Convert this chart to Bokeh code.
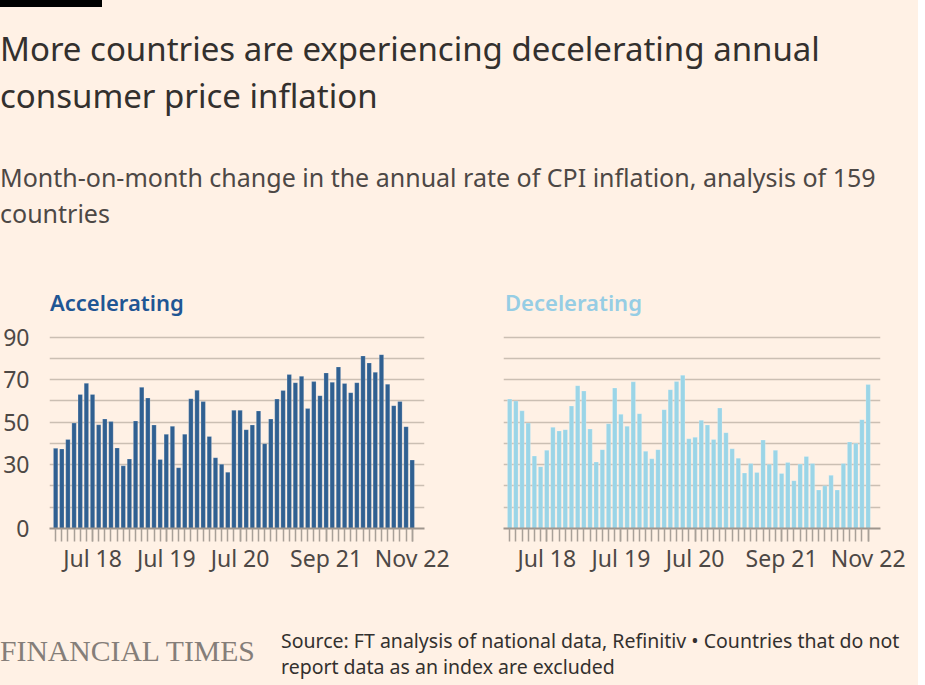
from bokeh.plotting import figure
from bokeh.layouts import column, row
from bokeh.models import Div, Range1d, FixedTicker
from bokeh.embed import file_html
from bokeh.resources import INLINE

# ---------------- data ----------------
title_lines = ["More countries are experiencing decelerating annual",
               "consumer price inflation"]
subtitle_lines = ["Month-on-month change in the annual rate of CPI inflation, analysis of 159",
                  "countries"]
panel_titles = ["Accelerating", "Decelerating"]
source_lines = ["Source: FT analysis of national data, Refinitiv \u2022 Countries that do not",
                "report data as an index are excluded"]
brand = "FINANCIAL TIMES"

# months Jan 2018 .. Nov 2022 (59 months)
month_index = list(range(59))
tick_positions = [6, 18, 30, 44, 58]
tick_labels = ["Jul 18", "Jul 19", "Jul 20", "Sep 21", "Nov 22"]
y_ticks = [0, 30, 50, 70, 90]
y_grid = [10, 20, 30, 40, 50, 60, 70, 80, 90]

accelerating = [37.7, 37.4, 41.9, 49.6, 63.1, 68.3, 63.1, 48.8, 51.5, 50.3,
                37.9, 29.5, 32.7, 50.6, 66.4, 61.4, 48.7, 32.5, 44.3, 48.1,
                28.6, 44.4, 61.1, 65.0, 59.7, 43.3, 33.3, 30.2, 26.5, 55.6,
                55.6, 46.5, 48.7, 55.3, 39.9, 51.5, 60.9, 64.9, 72.4, 68.6,
                71.6, 56.4, 69.1, 62.5, 73.2, 68.8, 76.0, 68.2, 63.9, 68.6,
                81.2, 77.9, 73.5, 81.8, 67.9, 57.8, 59.8, 47.9, 32.2]

decelerating = [60.9, 60.0, 55.4, 49.6, 34.1, 29.1, 36.8, 47.6, 45.9, 46.5,
                57.6, 67.2, 64.7, 46.8, 31.3, 37.1, 49.3, 66.1, 53.7, 48.1,
                69.0, 54.0, 36.3, 32.8, 37.1, 55.9, 65.3, 69.1, 72.1, 42.2,
                42.9, 50.9, 48.7, 41.9, 56.7, 45.1, 37.5, 33.1, 26.1, 30.6,
                26.4, 41.6, 30.2, 36.8, 25.9, 31.1, 22.5, 30.3, 33.9, 30.6,
                18.1, 20.1, 25.0, 18.1, 30.6, 40.7, 40.1, 51.2, 67.7]

# ---------------- style ----------------
BG = "#FFF1E5"
FONT = "Noto Sans"
TEXT_DARK = "#33302e"
TEXT_MID = "#4d4845"
GRID = "#cbbfb3"
AXIS = "#9e958d"
ACC_BAR = "#306091"
ACC_TXT = "#1f5694"
DEC_BAR = "#9bd5e7"
DEC_TXT = "#96cde4"
PAGE_W = 918


def line_div(text, left, top, size, color, weight="normal", family=FONT):
    return (f'<div style="position:absolute;left:{left}px;top:{top}px;'
            f'font-family:\'{family}\';font-size:{size}px;line-height:{size}px;'
            f'font-weight:{weight};color:{color};white-space:nowrap;">{text}</div>')


header_html = (
    f'<div style="position:relative;width:{PAGE_W}px;height:320px;background:{BG};">'
    '<div style="position:absolute;left:0;top:0;width:102px;height:7px;background:#000;"></div>'
    + line_div(title_lines[0], 0, 31.7, 33, TEXT_DARK)
    + line_div(title_lines[1], 0, 78.7, 33, TEXT_DARK)
    + line_div(subtitle_lines[0], 0, 164.8, 25, TEXT_MID)
    + line_div(subtitle_lines[1], 0, 200.8, 25, TEXT_MID)
    + line_div(panel_titles[0], 50, 290.5, 22, ACC_TXT, "600")
    + line_div(panel_titles[1], 505, 290.5, 22, DEC_TXT, "600")
    + '</div>'
)
header = Div(text=header_html, width=PAGE_W, height=320, margin=0,
             styles={"background-color": BG})

footer_html = (
    f'<div style="position:relative;width:{PAGE_W}px;height:85px;background:{BG};">'
    + line_div(brand, 0, 37.1, 29.7, "#857e79", "normal", "Liberation Serif")
    + line_div(source_lines[0], 281, 30.7, 19.5, TEXT_DARK)
    + line_div(source_lines[1], 281, 56.7, 19.5, TEXT_DARK)
    + '</div>'
)
footer = Div(text=footer_html, width=PAGE_W, height=85, margin=0,
             styles={"background-color": BG})


def make_panel(values, color, width, border_left, border_right, show_y):
    p = figure(width=width, height=280, output_backend="svg", toolbar_location=None,
               x_range=Range1d(-1, 60), y_range=Range1d(0, 91.27),
               min_border_left=border_left, min_border_right=border_right,
               min_border_top=14, min_border_bottom=72)
    p.background_fill_color = BG
    p.border_fill_color = BG
    p.outline_line_color = None
    p.vbar(x=month_index, top=values, width=0.72, fill_color=color,
           line_color="#ffffff", line_alpha=0.25, line_width=0.8)

    p.xgrid.visible = False
    p.ygrid.ticker = FixedTicker(ticks=y_grid)
    p.ygrid.grid_line_color = GRID
    p.ygrid.grid_line_width = 1.6

    xa = p.xaxis[0]
    xa.ticker = FixedTicker(ticks=tick_positions, minor_ticks=month_index)
    xa.major_label_overrides = {t: l for t, l in zip(tick_positions, tick_labels)}
    xa.axis_line_color = AXIS
    xa.axis_line_width = 2
    xa.major_tick_line_color = "#a8a098"
    xa.minor_tick_line_color = "#a8a098"
    xa.major_tick_line_width = 1.5
    xa.minor_tick_line_width = 1.5
    xa.major_tick_in = 0
    xa.minor_tick_in = 0
    xa.major_tick_out = 13
    xa.minor_tick_out = 13
    xa.major_label_standoff = 0
    xa.major_label_text_font = FONT
    xa.major_label_text_font_size = "23px"
    xa.major_label_text_color = TEXT_MID

    ya = p.yaxis[0]
    if show_y:
        ya.ticker = FixedTicker(ticks=y_ticks)
        ya.axis_line_color = None
        ya.major_tick_line_color = None
        ya.minor_tick_line_color = None
        ya.major_tick_out = 0
        ya.major_tick_in = 0
        ya.minor_tick_out = 0
        ya.minor_tick_in = 0
        ya.major_label_standoff = 20
        ya.major_label_text_font = FONT
        ya.major_label_text_font_size = "23px"
        ya.major_label_text_color = TEXT_MID
    else:
        ya.visible = False
    return p


left = make_panel(accelerating, ACC_BAR, 460, 48, 36, True)
right = make_panel(decelerating, DEC_BAR, PAGE_W - 460, 43, PAGE_W - 460 - 43 - 377, False)

charts = row(left, right, margin=0, spacing=0, styles={"background-color": BG})
layout = column(header, charts, footer, margin=0, spacing=0,
                styles={"background": f"linear-gradient(to right, {BG} {PAGE_W}px, #ffffff {PAGE_W}px)"})

open("out.html", "w").write(file_html(layout, INLINE))
